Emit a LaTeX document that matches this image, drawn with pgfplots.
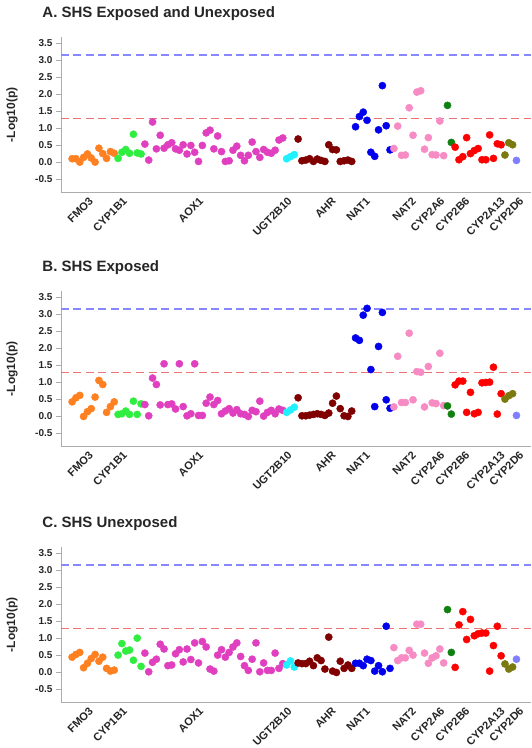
\documentclass[border=0pt]{standalone}
\usepackage{pgfplots}
\pgfplotsset{compat=1.18}
\usepackage{pgfplotstable}
\usepackage{fontspec}
\setmainfont{Liberation Sans}
\definecolor{cF}{HTML}{FF8020}
\definecolor{cG}{HTML}{30EE40}
\definecolor{cM}{HTML}{E040C0}
\definecolor{cC}{HTML}{20F0FF}
\definecolor{cD}{HTML}{800000}
\definecolor{cB}{HTML}{0000EE}
\definecolor{cP}{HTML}{F78BC4}
\definecolor{cE}{HTML}{108010}
\definecolor{cR}{HTML}{FF0000}
\definecolor{cO}{HTML}{7A7A10}
\definecolor{cL}{HTML}{8080FF}
\definecolor{dashblue}{RGB}{135,135,255}
\definecolor{dashred}{RGB}{235,115,115}

\pgfplotstableread{
i g A B C
0 f 0.11 0.43 0.45
1 f 0.11 0.55 0.53
2 f 0.01 0.62 0.59
3 f 0.15 0.00 0.14
4 f 0.25 0.14 0.27
5 f 0.13 0.23 0.41
6 f 0.01 0.57 0.53
7 f 0.42 1.06 0.33
8 f 0.26 0.94 0.45
9 f 0.12 0.12 0.12
10 f 0.32 0.29 0.04
11 f 0.27 0.43 0.07
12 g 0.12 0.06 0.51
13 g 0.30 0.08 0.85
14 g 0.38 0.16 0.63
15 g 0.27 0.06 0.66
16 g 0.83 0.45 0.36
17 g 0.28 0.06 1.01
18 g 0.25 0.37 0.18
19 m 0.54 0.35 0.57
20 m 0.07 0.02 0.02
21 m 1.19 1.13 0.30
22 m 0.40 0.94 0.39
23 m 0.80 0.34 0.83
24 m 0.42 1.55 0.69
25 m 0.52 0.35 0.20
26 m 0.58 0.37 0.22
27 m 0.40 0.22 0.55
28 m 0.36 1.55 0.67
29 m 0.52 0.29 0.31
30 m 0.25 0.02 0.69
31 m 0.50 0.08 0.38
32 m 0.30 1.55 0.87
33 m 0.03 0.03 0.28
34 m 0.50 0.03 0.91
35 m 0.87 0.39 0.75
36 m 0.95 0.57 0.10
37 m 0.40 0.35 0.04
38 m 0.78 0.47 0.51
39 m 0.32 0.08 0.67
40 m 0.03 0.16 0.45
41 m 0.05 0.23 0.59
42 m 0.36 0.10 0.75
43 m 0.48 0.20 0.87
44 m 0.21 0.08 0.47
45 m 0.05 0.06 0.20
46 m 0.21 0.00 0.06
47 m 0.60 0.18 0.39
48 m 0.32 0.14 0.87
49 m 0.15 0.45 0.02
50 m 0.38 0.01 0.28
51 m 0.30 0.12 0.06
52 m 0.27 0.18 0.06
53 m 0.36 0.08 0.57
54 m 0.66 0.22 0.12
55 m 0.72 0.18 0.26
56 c 0.11 0.12 0.22
57 c 0.17 0.19 0.34
58 c 0.23 0.27 0.16
59 d 0.69 0.55 0.28
60 d 0.05 0.02 0.26
61 d 0.07 0.02 0.26
62 d 0.11 0.04 0.33
63 d 0.03 0.06 0.20
64 d 0.10 0.08 0.43
65 d 0.06 0.06 0.35
66 d 0.03 0.03 0.10
67 d 0.52 0.10 1.04
68 d 0.38 0.39 0.04
69 d 0.37 0.60 0.00
70 d 0.03 0.23 0.33
71 d 0.05 0.02 0.12
72 d 0.07 0.00 0.22
73 d 0.03 0.16 0.12
74 b 1.05 2.31 0.27
75 b 1.35 2.24 0.27
76 b 1.48 2.98 0.20
77 b 1.24 3.18 0.39
78 b 0.30 1.38 0.35
79 b 0.18 0.29 0.04
80 b 0.96 2.06 0.20
81 b 2.26 3.06 0.02
82 b 1.08 0.49 1.36
83 b 0.37 0.24 0.12
84 p 0.41 0.28 0.73
85 p 1.07 1.77 0.35
86 p 0.21 0.41 0.43
87 p 0.22 0.41 0.43
88 p 1.61 2.45 0.65
89 p 0.80 0.49 0.51
90 p 2.07 1.32 1.42
91 p 2.11 1.30 1.42
92 p 0.39 0.28 0.57
93 p 0.73 1.47 0.27
94 p 0.23 0.40 0.43
95 p 0.22 0.38 0.49
96 p 1.22 1.86 0.69
97 p 0.20 0.32 0.28
98 e 1.68 0.31 1.85
99 e 0.59 0.07 0.59
100 r 0.45 0.93 0.15
101 r 0.08 1.04 1.40
102 r 0.17 1.04 1.79
103 r 0.73 0.12 0.97
104 r 0.26 0.71 1.56
105 r 0.35 0.08 1.08
106 r 0.41 0.12 1.14
107 r 0.08 0.99 1.16
108 r 0.08 1.00 1.16
109 r 0.81 1.01 0.04
110 r 0.12 1.45 0.79
111 r 0.55 0.07 1.36
112 r 0.52 0.67 0.49
113 o 0.22 0.51 0.25
114 o 0.58 0.61 0.10
115 o 0.52 0.67 0.16
116 l 0.06 0.03 0.39
}\snp

\pgfplotsset{
  panel/.style={
    scale only axis, width=470pt, height=156pt,
    xmin=-2.9, xmax=119.8, ymin=-0.89, ymax=3.7,
    axis x line*=bottom, axis y line*=left,
    axis line style={draw=gray!65, line width=0.8pt},
    tick align=outside, major tick length=5pt,
    ytick={-0.5,0,0.5,1,1.5,2,2.5,3,3.5},
    ytick style={draw=gray!65, line width=0.8pt},
    xtick style={draw=none},
    yticklabel style={font=\fontsize{10}{12}\selectfont\bfseries, text=black!85,
      /pgf/number format/fixed, /pgf/number format/fixed zerofill,
      /pgf/number format/precision=1, /pgf/number format/assume math mode=true},
    xtick={4.6,13.5,33.4,56.5,68.0,76.9,88.9,96.4,102.9,112.1,117.0},
    xticklabels={FMO3,CYP1B1,AOX1,UGT2B10,AHR,NAT1,NAT2,CYP2A6,CYP2B6,CYP2A13,CYP2D6},
    xticklabel style={rotate=45, anchor=east, inner sep=0pt, yshift=-2pt,
      font=\fontsize{11}{13}\selectfont\bfseries, text=black!85},
    ylabel={-Log10(p)},
    ylabel style={at={(axis description cs:-0.104,0.5)}, anchor=center,
      font=\fontsize{12}{14}\selectfont\bfseries, text=black!85},
    title style={at={(axis description cs:-0.047,1.12)}, anchor=base west, yshift=-6pt,
      font=\fontsize{15}{18}\selectfont\bfseries, text=black!85},
    clip=false,
  },
  pts/.style={scatter, only marks, mark=*, mark size=3.6pt,
    scatter src=explicit symbolic,
    scatter/classes={
      f={mark=*,draw=cF,fill=cF},
      g={mark=*,draw=cG,fill=cG},
      m={mark=*,draw=cM,fill=cM},
      c={mark=*,draw=cC,fill=cC},
      d={mark=*,draw=cD,fill=cD},
      b={mark=*,draw=cB,fill=cB},
      p={mark=*,draw=cP,fill=cP},
      e={mark=*,draw=cE,fill=cE},
      r={mark=*,draw=cR,fill=cR},
      o={mark=*,draw=cO,fill=cO},
      l={mark=*,draw=cL,fill=cL}}},
  rline/.style={mark=none, draw=dashred, dash pattern=on 8pt off 4.5pt, line width=1pt},
  bline/.style={mark=none, draw=dashblue, dash pattern=on 8pt off 4.5pt, line width=2pt},
}

\begin{document}
\begin{tikzpicture}
\path[use as bounding box] (0,0) rectangle (531pt,-748pt);

\begin{axis}[panel, at={(61pt,-192.7pt)}, anchor=south west,
  title={A. SHS Exposed and Unexposed}]
\addplot[pts] table[x=i, y=A, meta=g] {\snp};
\addplot[rline] coordinates {(-2.9,1.30) (119.8,1.30)};
\addplot[bline] coordinates {(-2.9,3.15) (119.8,3.15)};
\end{axis}

\begin{axis}[panel, at={(61pt,-446.7pt)}, anchor=south west,
  title={B. SHS Exposed}]
\addplot[pts] table[x=i, y=B, meta=g] {\snp};
\addplot[rline] coordinates {(-2.9,1.30) (119.8,1.30)};
\addplot[bline] coordinates {(-2.9,3.15) (119.8,3.15)};
\end{axis}

\begin{axis}[panel, at={(61pt,-702.7pt)}, anchor=south west,
  title={C. SHS Unexposed}]
\addplot[pts] table[x=i, y=C, meta=g] {\snp};
\addplot[rline] coordinates {(-2.9,1.30) (119.8,1.30)};
\addplot[bline] coordinates {(-2.9,3.15) (119.8,3.15)};
\end{axis}
\end{tikzpicture}
\end{document}
